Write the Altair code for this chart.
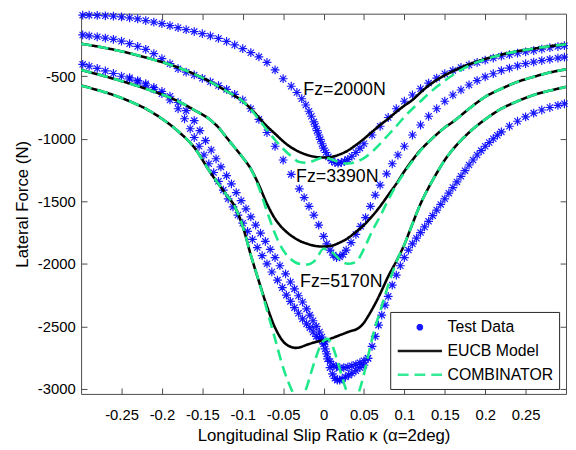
import altair as alt
import pandas as pd

# ---------------- series / styling lists ----------------
SERIES = ["Test Data", "EUCB Model", "COMBINATOR"]
SERIES_COLORS = ["#0000ff", "#000000", "#1ee88a"]
ASTERISK = "M-0.41,0L0.41,0M0,-0.41L0,0.41M-0.29,-0.29L0.29,0.29M-0.29,0.29L0.29,-0.29"
LINE_SYMBOL = "M-2.8,0L2.8,0"
DASHES = [[1, 0], [1, 0], [11, 6]]

X_TICKS = [-0.25, -0.2, -0.15, -0.1, -0.05, 0, 0.05, 0.1, 0.15, 0.2, 0.25]
Y_TICKS = [-3000, -2500, -2000, -1500, -1000, -500]

NOTE_TEXT = ["Fz=2000N", "Fz=3390N", "Fz=5170N"]
NOTE_K = [0.026, 0.017, 0.022]
NOTE_F = [-610, -1304, -2148]

# ---------------- test data (Fz = 2000 N) ----------------
A_k = [-0.298, -0.29, -0.28, -0.27, -0.26, -0.25, -0.24, -0.23, -0.22, -0.21,
       -0.2, -0.19, -0.18, -0.17, -0.16, -0.15, -0.14, -0.13, -0.12, -0.11,
       -0.1, -0.09, -0.08, -0.07, -0.06, -0.05, -0.04,
       -0.033, -0.027, -0.022, -0.018, -0.015, -0.012, -0.01, -0.008, -0.006, -0.004, -0.002,
       0.0,
       0.003, 0.006, 0.01, 0.014, 0.018, 0.022, 0.026, 0.03, 0.035, 0.04, 0.045, 0.05,
       0.06, 0.07, 0.08, 0.09, 0.1, 0.11, 0.12, 0.13, 0.14, 0.15, 0.16, 0.17, 0.18, 0.19,
       0.2, 0.21, 0.22, 0.23, 0.24, 0.25, 0.26, 0.27, 0.28, 0.29, 0.298]
A_f = [-12, -12, -14, -17, -20, -26, -33, -42, -55, -68,
       -80, -96, -112, -128, -143, -160, -178, -198, -222, -250,
       -280, -312, -345, -390, -450, -520, -580,
       -630, -680, -730, -780, -820, -865, -900, -935, -970, -1005, -1040,
       -1075,
       -1110, -1145, -1175, -1190, -1195, -1190, -1180, -1165, -1140, -1110, -1075, -1040,
       -970, -900, -830, -760, -700, -650, -600, -555, -515, -480, -455, -430, -410, -390,
       -372, -355, -340, -328, -316, -305, -295, -283, -272, -263, -256]

# ---------------- test data (Fz = 3390 N) ----------------
B_k = [-0.298, -0.29, -0.28, -0.27, -0.26, -0.25, -0.24, -0.23, -0.22, -0.21,
       -0.2, -0.19, -0.18, -0.17, -0.16, -0.15, -0.14, -0.13, -0.12, -0.11,
       -0.1, -0.09, -0.08, -0.07, -0.06, -0.05, -0.04, -0.03, -0.024, -0.018,
       -0.012, -0.006, 0.0, 0.004, 0.008, 0.012, 0.016, 0.02, 0.024, 0.028,
       0.034, 0.04, 0.046, 0.052, 0.058, 0.064, 0.07, 0.078, 0.085, 0.092,
       0.1, 0.11, 0.12, 0.13, 0.14, 0.15, 0.16, 0.17, 0.18, 0.19,
       0.2, 0.21, 0.22, 0.23, 0.24, 0.25, 0.26, 0.27, 0.28, 0.29, 0.298]
B_f = [-170, -177, -185, -195, -205, -220, -240, -262, -285, -320,
       -360, -400, -440, -468, -490, -517, -545, -575, -605, -645,
       -690, -760, -845, -950, -1060, -1170, -1285, -1400, -1470, -1540,
       -1610, -1690, -1780, -1840, -1890, -1930, -1950, -1945, -1925, -1890,
       -1830, -1765, -1700, -1630, -1540, -1450, -1370, -1280, -1200, -1130,
       -1060, -970, -890, -820, -760, -700, -650, -610, -570, -535,
       -505, -480, -455, -435, -417, -400, -387, -375, -365, -355, -348]

# ---------------- test data (Fz = 5170 N), several passes ----------------
C1_k = [-0.298, -0.29, -0.28, -0.27, -0.26, -0.25, -0.24, -0.23, -0.22, -0.21,
        -0.2, -0.19, -0.18, -0.172, -0.165, -0.16, -0.154, -0.148, -0.142, -0.136,
        -0.13, -0.124, -0.118, -0.112, -0.106, -0.1, -0.094, -0.088, -0.082, -0.076,
        -0.07, -0.064, -0.057, -0.051, -0.046, -0.041, -0.036, -0.031, -0.026, -0.021,
        -0.017, -0.013, -0.009, -0.005, 0.0]
C1_f = [-405, -420, -438, -458, -478, -500, -522, -546, -572, -604,
        -640, -690, -760, -840, -920, -990, -1060, -1130, -1200, -1270,
        -1340, -1410, -1480, -1545, -1610, -1675, -1740, -1805, -1870, -1935,
        -2000, -2065, -2130, -2190, -2250, -2300, -2350, -2395, -2440, -2480,
        -2510, -2545, -2580, -2600, -2620]
C2_k = [-0.24, -0.23, -0.22, -0.21, -0.2, -0.19, -0.18, -0.17, -0.16, -0.153,
        -0.146, -0.139, -0.133, -0.127, -0.12, -0.114, -0.108, -0.102, -0.096, -0.09,
        -0.084, -0.078, -0.072, -0.066, -0.06, -0.054, -0.047, -0.041, -0.036, -0.031,
        -0.026, -0.021, -0.017, -0.013, -0.009, -0.005, -0.002, 0.002]
C2_f = [-512, -535, -560, -590, -622, -660, -710, -775, -855, -935,
        -1015, -1090, -1160, -1225, -1295, -1360, -1430, -1495, -1560, -1625,
        -1690, -1755, -1820, -1885, -1950, -2015, -2080, -2145, -2200, -2255,
        -2305, -2360, -2410, -2455, -2500, -2545, -2585, -2625]
L1_k = [0.0, 0.004, 0.008, 0.012, 0.016, 0.02, 0.025, 0.03, 0.035, 0.04, 0.045, 0.05, 0.055]
L1_f = [-2640, -2720, -2780, -2810, -2825, -2830, -2830, -2825, -2815, -2805, -2790, -2775, -2755]
L2_k = [0.002, 0.005, 0.008, 0.011, 0.014, 0.017, 0.02, 0.023, 0.027, 0.031, 0.035, 0.04, 0.045, 0.05]
L2_f = [-2680, -2760, -2830, -2880, -2915, -2930, -2930, -2920, -2905, -2890, -2875, -2855, -2830, -2810]
R_k = [0.055, 0.06, 0.064, 0.068, 0.072, 0.076, 0.08, 0.085, 0.09, 0.095,
       0.1, 0.105, 0.11, 0.115, 0.12, 0.125, 0.13, 0.135, 0.14, 0.145,
       0.15, 0.155, 0.16, 0.165, 0.17, 0.175, 0.18, 0.185, 0.19, 0.195,
       0.2, 0.205, 0.21, 0.215, 0.22,
       0.23, 0.24, 0.25, 0.26, 0.27, 0.28, 0.29, 0.298]
R_f = [-2755, -2660, -2580, -2490, -2410, -2330, -2260, -2170, -2090, -2015,
       -1950, -1890, -1840, -1795, -1750, -1705, -1660, -1615, -1570, -1525,
       -1480, -1435, -1390, -1345, -1300, -1255, -1210, -1170, -1130, -1095,
       -1060, -1030, -1000, -972, -945,
       -900, -860, -825, -795, -770, -750, -733, -720]

# ---------------- model curves ----------------
M2000_k = [-0.3, -0.26, -0.22, -0.18, -0.14, -0.12, -0.1, -0.09, -0.08, -0.07,
           -0.06, -0.05, -0.04, -0.03, -0.02, -0.01, 0.0, 0.01, 0.02, 0.03,
           0.04, 0.05, 0.06, 0.07, 0.08, 0.09, 0.1, 0.11, 0.12, 0.13,
           0.14, 0.15, 0.16, 0.18, 0.2, 0.22, 0.24, 0.26, 0.28, 0.3]
EUCB2000_f = [-240, -287, -350, -430, -545, -620, -700, -760, -830, -900,
              -960, -1020, -1070, -1105, -1130, -1145, -1150, -1145, -1125, -1095,
              -1050, -1000, -945, -890, -840, -785, -735, -690, -630, -575,
              -530, -492, -460, -405, -362, -327, -300, -280, -260, -245]
COMB2000_f = [-240, -287, -350, -430, -545, -620, -700, -765, -845, -930,
              -1010, -1080, -1140, -1185, -1192, -1170, -1150, -1165, -1190, -1198,
              -1185, -1155, -1105, -1040, -970, -900, -825, -760, -700, -640,
              -585, -535, -490, -415, -365, -328, -300, -280, -260, -245]

M3390_k = [-0.3, -0.26, -0.22, -0.18, -0.16, -0.14, -0.13, -0.12, -0.11, -0.1,
           -0.09, -0.08, -0.07, -0.06, -0.05, -0.04, -0.03, -0.02, -0.01, 0.0,
           0.01, 0.02, 0.03, 0.04, 0.05, 0.06, 0.07, 0.08, 0.09, 0.1,
           0.11, 0.12, 0.13, 0.14, 0.15, 0.16, 0.18, 0.2, 0.22, 0.24,
           0.26, 0.28, 0.3]
EUCB3390_f = [-450, -520, -600, -700, -770, -850, -910, -990, -1070, -1150,
              -1240, -1370, -1520, -1640, -1720, -1775, -1815, -1840, -1857, -1862,
              -1855, -1830, -1795, -1745, -1690, -1620, -1540, -1450, -1360, -1260,
              -1170, -1090, -1025, -965, -910, -865, -760, -665, -600, -545,
              -505, -470, -445]
COMB3390_f = [-450, -520, -600, -700, -770, -850, -910, -990, -1070, -1150,
              -1240, -1390, -1580, -1760, -1890, -1965, -2000, -2005, -1970, -1880,
              -1905, -1965, -2000, -1985, -1880, -1740, -1620, -1490, -1370, -1270,
              -1180, -1095, -1025, -965, -910, -865, -760, -665, -600, -545,
              -505, -470, -445]

M5170_k = [-0.3, -0.28, -0.26, -0.24, -0.22, -0.2, -0.18, -0.16, -0.14, -0.12,
           -0.11, -0.1, -0.09, -0.08, -0.07, -0.06, -0.05, -0.04, -0.035, -0.03,
           -0.025, -0.02, -0.015, -0.01, -0.005, 0.0, 0.005, 0.01, 0.015, 0.02,
           0.025, 0.03, 0.035, 0.04, 0.045, 0.05, 0.055, 0.06, 0.065, 0.07,
           0.075, 0.08, 0.085, 0.09, 0.1, 0.11, 0.12, 0.13, 0.14, 0.15,
           0.16, 0.18, 0.2, 0.22, 0.24, 0.26, 0.28, 0.3]
EUCB5170_f = [-575, -610, -650, -700, -760, -840, -940, -1070, -1270, -1450,
              -1540, -1700, -1930, -2140, -2340, -2510, -2620, -2665, -2672, -2668,
              -2658, -2645, -2635, -2625, -2618, -2612, -2604, -2595, -2583, -2570,
              -2558, -2545, -2535, -2525, -2505, -2470, -2420, -2365, -2305, -2240,
              -2170, -2100, -2040, -1980, -1845, -1680, -1520, -1390, -1275, -1170,
              -1085, -950, -845, -760, -700, -650, -615, -585]
COMB5170_f = [-575, -610, -650, -700, -760, -840, -940, -1070, -1270, -1450,
              -1540, -1700, -1930, -2140, -2370, -2600, -2830, -3000, -3065, -3085,
              -3050, -2970, -2860, -2760, -2670, -2615, -2600, -2640, -2730, -2840,
              -2950, -3040, -3080, -3070, -3000, -2880, -2740, -2600, -2480, -2380,
              -2275, -2170, -2075, -1985, -1845, -1680, -1520, -1390, -1275, -1170,
              -1085, -950, -845, -760, -700, -650, -615, -585]


def frame(series, curve, ks, fs):
    assert len(ks) == len(fs), curve
    return pd.DataFrame({"kappa": ks, "force": fs, "series": series,
                         "curve": curve, "idx": list(range(len(ks)))})


test_df = pd.concat([
    frame("Test Data", "A", A_k, A_f),
    frame("Test Data", "B", B_k, B_f),
    frame("Test Data", "C1", C1_k, C1_f),
    frame("Test Data", "C2", C2_k, C2_f),
    frame("Test Data", "L1", L1_k, L1_f),
    frame("Test Data", "L2", L2_k, L2_f),
    frame("Test Data", "R", R_k, R_f),
], ignore_index=True)
eucb_df = pd.concat([
    frame("EUCB Model", "e2000", M2000_k, EUCB2000_f),
    frame("EUCB Model", "e3390", M3390_k, EUCB3390_f),
    frame("EUCB Model", "e5170", M5170_k, EUCB5170_f),
], ignore_index=True)
comb_df = pd.concat([
    frame("COMBINATOR", "c2000", M2000_k, COMB2000_f),
    frame("COMBINATOR", "c3390", M3390_k, COMB3390_f),
    frame("COMBINATOR", "c5170", M5170_k, COMB5170_f),
], ignore_index=True)
notes_df = pd.DataFrame({"label": NOTE_TEXT, "kappa": NOTE_K, "force": NOTE_F})

FONT = "Liberation Sans"
AX_COLOR = "#4a4a4a"
x_scale = alt.Scale(domain=[-0.3, 0.3], nice=False, zero=False)
y_scale = alt.Scale(domain=[-3040, 0], nice=False, zero=False)
color_scale = alt.Scale(domain=SERIES, range=SERIES_COLORS)
shape_scale = alt.Scale(domain=SERIES, range=[ASTERISK, LINE_SYMBOL, LINE_SYMBOL])
dash_scale = alt.Scale(domain=SERIES, range=DASHES)

legend = alt.Legend(title=None, orient="none", legendX=313, legendY=302,
                    symbolSize=256, symbolOffset=14.5, labelOffset=18.5,
                    symbolStrokeWidth=2.5,
                    labelFontSize=16, labelFont=FONT,
                    labelColor="black", strokeColor="#262626", fillColor="white",
                    padding=6, rowPadding=6)

inward = alt.ExprRef(expr="-6")
x_axis = alt.Axis(orient="bottom", values=X_TICKS, labelExpr="'' + datum.value",
                  tickSize=inward, labelPadding=20, grid=False,
                  title="Longitudinal Slip Ratio κ (α=2deg)", titleFontSize=17,
                  titleFontWeight="normal", titlePadding=5, titleFont=FONT,
                  labelFontSize=15, labelFont=FONT, labelColor="black",
                  titleColor="black", domainColor=AX_COLOR, tickColor=AX_COLOR)
y_axis = alt.Axis(orient="left", values=Y_TICKS, labelExpr="'' + datum.value",
                  tickSize=inward, labelPadding=12, grid=False,
                  title="Lateral Force (N)", titleFontSize=17,
                  titleFontWeight="normal", titlePadding=6, titleFont=FONT,
                  labelFontSize=15, labelFont=FONT, labelColor="black",
                  titleColor="black", domainColor=AX_COLOR, tickColor=AX_COLOR)
x_top = alt.Axis(orient="top", values=X_TICKS, labels=False, title=None,
                 tickSize=inward, grid=False, domainColor=AX_COLOR, tickColor=AX_COLOR)
y_right = alt.Axis(orient="right", values=Y_TICKS, labels=False, title=None,
                   tickSize=inward, grid=False, domainColor=AX_COLOR, tickColor=AX_COLOR)

points = alt.Chart(test_df).mark_point(filled=False, size=470, strokeWidth=1.2,
                                       opacity=0.9).encode(
    x=alt.X("kappa:Q", scale=x_scale, axis=x_axis),
    y=alt.Y("force:Q", scale=y_scale, axis=y_axis),
    color=alt.Color("series:N", scale=color_scale, legend=legend),
    shape=alt.Shape("series:N", scale=shape_scale, legend=legend),
)


def model_layer(df):
    return alt.Chart(df).mark_line(strokeWidth=2.6, interpolate="monotone",
                                   clip=True).encode(
        x=alt.X("kappa:Q", scale=x_scale, axis=None),
        y=alt.Y("force:Q", scale=y_scale, axis=None),
        color=alt.Color("series:N", scale=color_scale, legend=legend),
        strokeDash=alt.StrokeDash("series:N", scale=dash_scale, legend=legend),
        detail="curve:N",
        order="idx:Q",
    )


eucb = model_layer(eucb_df)
comb = model_layer(comb_df)

notes = alt.Chart(notes_df).mark_text(fontSize=18, font=FONT, color="black",
                                      align="center", baseline="middle").encode(
    x=alt.X("kappa:Q", scale=x_scale, axis=x_top),
    y=alt.Y("force:Q", scale=y_scale, axis=y_right),
    text="label:N",
)

chart = alt.layer(points, eucb, comb, notes).resolve_axis(
    x="independent", y="independent"
).properties(
    width=491, height=385,
    autosize=alt.AutoSizeParams(type="none"),
    padding={"left": 74, "top": 3, "right": 2, "bottom": 52},
    background="white",
).configure_view(stroke=None)

chart.save("out.html", embed_options={"renderer": "svg", "actions": False})
